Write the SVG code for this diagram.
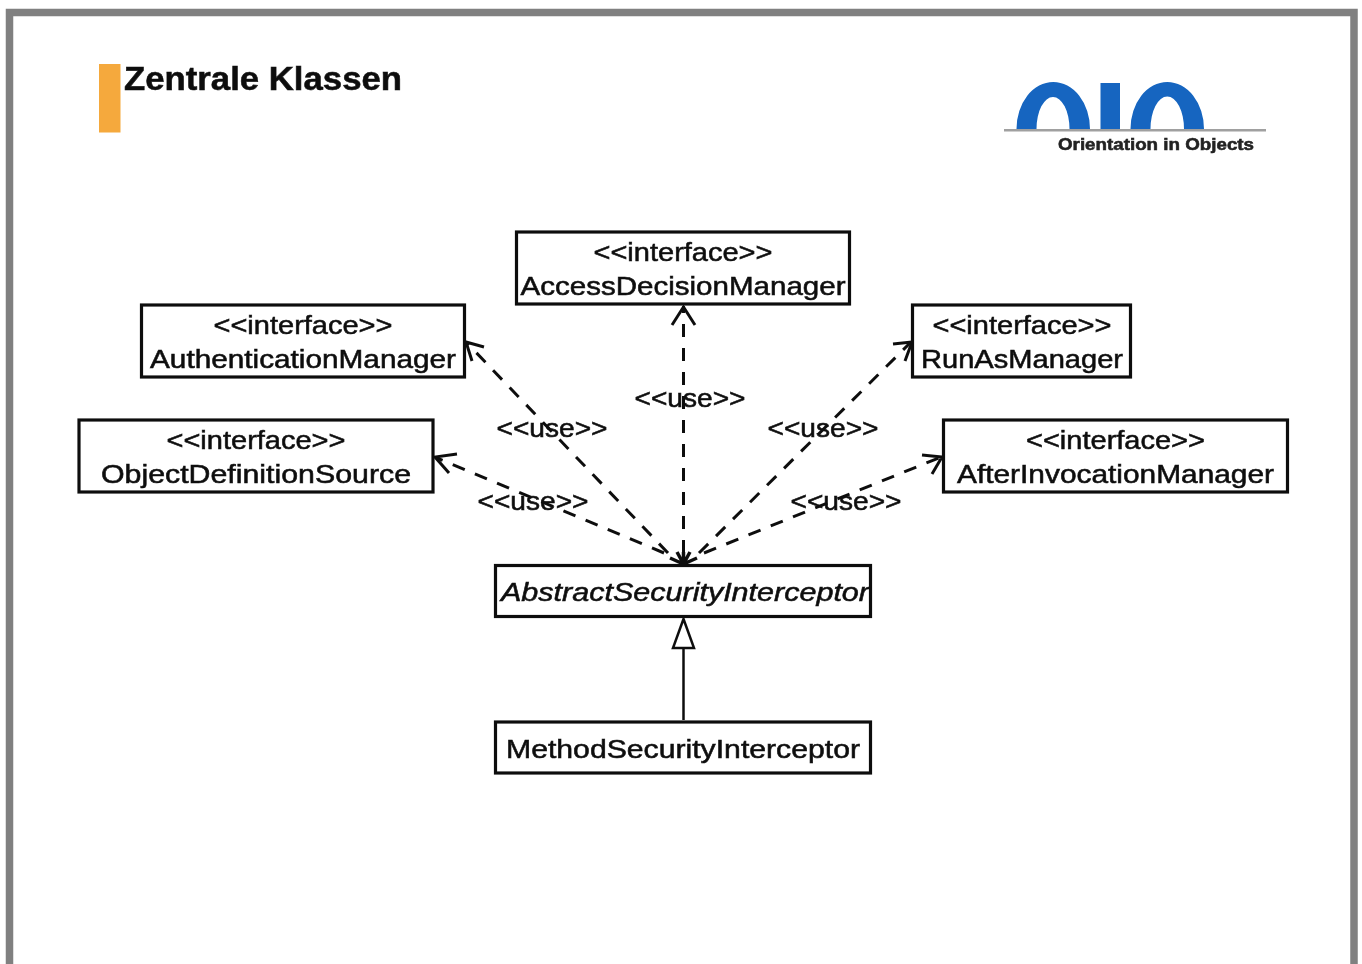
<svg xmlns="http://www.w3.org/2000/svg" width="1362" height="964" viewBox="0 0 1362 964">
<defs><filter id="soft" x="0" y="0" width="1" height="1" filterUnits="objectBoundingBox"><feGaussianBlur stdDeviation="0.55"/></filter></defs>
<style>
text{font-family:"Liberation Sans",Arial,sans-serif;fill:#111;stroke:#111;stroke-width:.55;text-anchor:middle;font-size:26px}
.box{fill:#fff;stroke:#111;stroke-width:3.2}
.dash{fill:none;stroke:#111;stroke-width:3;stroke-dasharray:13 11}
.head{fill:none;stroke:#111;stroke-width:3}
.logo{fill:#1565c0}
</style>
<rect width="1362" height="964" fill="#fff"/>
<g filter="url(#soft)">
<rect width="1362" height="964" fill="#fff"/>
<path d="M9.500 970V12.500H1354V970" fill="none" stroke="#808080" stroke-width="7.500"/>
<rect x="99" y="64" width="21.500" height="68.500" fill="#f5a93c"/>
<text x="124" y="90" textLength="278" lengthAdjust="spacingAndGlyphs" style="text-anchor:start;font-size:33px;font-weight:bold">Zentrale Klassen</text>
<g id="logo">
<path class="logo" d="M1016.500 129A36.750 47 0 0 1 1090 129H1069.500A16.500 32 0 0 0 1036.500 129Z"/>
<rect class="logo" x="1100.500" y="83" width="19.500" height="46"/>
<path class="logo" d="M1130.500 129A36.750 47 0 0 1 1204 129H1184A16.500 32 0 0 0 1150.500 129Z"/>
<rect x="1004" y="129" width="262" height="2.500" fill="#a0a0a0"/>
<text x="1156" y="150" textLength="196" lengthAdjust="spacingAndGlyphs" style="font-size:16.500px;font-weight:bold;fill:#222;stroke:#222">Orientation in Objects</text>
</g>
<g id="connectors">
<path class="dash" d="M664 553L437 458"/>
<path class="dash" d="M668 553L467 343"/>
<path class="dash" d="M683.500 553V306"/>
<path class="dash" d="M699 553L910 343"/>
<path class="dash" d="M704 553L941 457"/>
<path class="head" d="M457 454L435 457L449 473M484 347L466 342L472 361M672 325L683.500 307L695 325M893 344L912 342L905 361M922 455L942 457L932 474"/>
<path d="M670 558L683.500 564L677 552M697 558L683.500 564L690 552M683.500 552V564" fill="none" stroke="#111" stroke-width="3.500"/>
<path d="M683.500 720V648" fill="none" stroke="#111" stroke-width="2.500"/>
<path d="M673 648H694L683.500 619Z" fill="#fff" stroke="#111" stroke-width="2.500"/>
</g>
<g id="access-decision-manager"><rect class="box" x="516.500" y="232" width="333" height="72"/><text x="683" y="261" textLength="179" lengthAdjust="spacingAndGlyphs">&lt;&lt;interface&gt;&gt;</text><text x="683" y="295" textLength="325" lengthAdjust="spacingAndGlyphs">AccessDecisionManager</text></g>
<g id="authentication-manager"><rect class="box" x="141.500" y="305" width="323" height="72"/><text x="303" y="334" textLength="179" lengthAdjust="spacingAndGlyphs">&lt;&lt;interface&gt;&gt;</text><text x="303" y="368" textLength="306" lengthAdjust="spacingAndGlyphs">AuthenticationManager</text></g>
<g id="run-as-manager"><rect class="box" x="912.500" y="305" width="218" height="72"/><text x="1022" y="334" textLength="179" lengthAdjust="spacingAndGlyphs">&lt;&lt;interface&gt;&gt;</text><text x="1022" y="368" textLength="202" lengthAdjust="spacingAndGlyphs">RunAsManager</text></g>
<g id="object-definition-source"><rect class="box" x="79" y="420" width="354" height="72"/><text x="256" y="449" textLength="179" lengthAdjust="spacingAndGlyphs">&lt;&lt;interface&gt;&gt;</text><text x="256" y="483" textLength="310" lengthAdjust="spacingAndGlyphs">ObjectDefinitionSource</text></g>
<g id="after-invocation-manager"><rect class="box" x="943.500" y="420" width="344" height="72"/><text x="1115.500" y="449" textLength="179" lengthAdjust="spacingAndGlyphs">&lt;&lt;interface&gt;&gt;</text><text x="1115.500" y="483" textLength="317" lengthAdjust="spacingAndGlyphs">AfterInvocationManager</text></g>
<g id="abstract-security-interceptor"><rect class="box" x="495.500" y="565.500" width="375" height="51"/><text x="685" y="601" textLength="368" lengthAdjust="spacingAndGlyphs" style="font-style:italic">AbstractSecurityInterceptor</text></g>
<g id="method-security-interceptor"><rect class="box" x="495.500" y="722" width="375" height="51"/><text x="683" y="758" textLength="354" lengthAdjust="spacingAndGlyphs">MethodSecurityInterceptor</text></g>
<g id="labels">
<text x="690" y="407" textLength="111" lengthAdjust="spacingAndGlyphs">&lt;&lt;use&gt;&gt;</text>
<text x="552" y="437" textLength="111" lengthAdjust="spacingAndGlyphs">&lt;&lt;use&gt;&gt;</text>
<text x="823" y="437" textLength="111" lengthAdjust="spacingAndGlyphs">&lt;&lt;use&gt;&gt;</text>
<text x="533" y="510" textLength="111" lengthAdjust="spacingAndGlyphs">&lt;&lt;use&gt;&gt;</text>
<text x="846" y="510" textLength="111" lengthAdjust="spacingAndGlyphs">&lt;&lt;use&gt;&gt;</text>
</g>
</g>
</svg>
